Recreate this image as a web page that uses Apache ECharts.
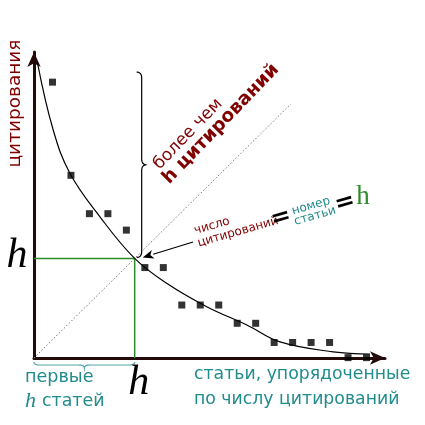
<!DOCTYPE html>
<html><head><meta charset="utf-8">
<script src="https://cdn.jsdelivr.net/npm/echarts@6/dist/echarts.min.js"></script>
<style>html,body{margin:0;padding:0;background:#fff}#c{width:425px;height:425px}</style>
</head><body><div id="c"></div>
<script>
// ---- data ----
const paperRank = [1,2,3,4,5,6,7,8,9,10,11,12,13,14,15,16,17,18];
const citations = [15.1,10.0,7.9,7.9,7.0,4.95,4.95,2.9,2.9,2.9,1.9,1.9,0.85,0.85,0.85,0.85,0.02,0.02];
const curveX = [0.18,1.04,1.95,3.57,5.45,7.18,9.35,11.52,13.32,16.19,18.19];
const curveY = [16.2,12.48,10.1,7.73,5.45,4.09,2.81,1.81,0.88,0.34,0.22];
const hIndex = 5.45;
const diagonalEnd = 13.9;
const braceTopValue = 15.65;
const xMax = 19, yMax = 16.75;

const DARKRED = '#800000', TEAL = '#218c8c', GREEN = '#2a8c2a';
const SANS = '"DejaVu Sans", sans-serif';
const SERIF = '"Liberation Serif", "DejaVu Serif", serif';

const chart = echarts.init(document.getElementById('c'));
const axisCommon = {
  type: 'value', min: 0,
  axisLine: { show: true, symbol: ['none', 'arrow'], symbolSize: [10, 15],
    lineStyle: { color: '#250a0a', width: 3 } },
  axisTick: { show: false }, axisLabel: { show: false }, splitLine: { show: false }
};
chart.setOption({
  animation: false,
  grid: { left: 34, top: 52, width: 351, height: 306 },
  xAxis: Object.assign({}, axisCommon, { max: xMax }),
  yAxis: Object.assign({}, axisCommon, { max: yMax }),
  series: [
    { type: 'line', data: [[0, 0], [diagonalEnd, diagonalEnd]], showSymbol: false,
      lineStyle: { color: '#777', width: 1, type: [1.5, 2] }, z: 1 },
    { type: 'line', data: [[0, hIndex], [hIndex, hIndex], [hIndex, 0]], showSymbol: false,
      lineStyle: { color: GREEN, width: 1.5 }, z: 2 },
    { type: 'line', data: curveX.map((x, i) => [x, curveY[i]]), smooth: 0.4, showSymbol: false,
      lineStyle: { color: '#000', width: 1.2 }, z: 3 },
    { type: 'scatter', data: paperRank.map((r, i) => [r, citations[i]]), symbol: 'rect',
      symbolSize: 7, itemStyle: { color: '#000' }, z: 4 }
  ]
});

const px = (x, y) => chart.convertToPixel({ gridIndex: 0 }, [x, y]);
const hp = px(hIndex, hIndex);
const o = px(0, 0);
const braceTopPx = px(hIndex, braceTopValue);

function txt(text, x, y, font, fill, opts) {
  opts = opts || {};
  return { type: 'text', x: x, y: y, rotation: opts.rot || 0, z: 10,
    style: { text: text, font: font, fill: fill,
      align: opts.align || 'center', textAlign: opts.align || 'center',
      verticalAlign: 'middle', textVerticalAlign: 'middle' } };
}
const rot16 = 16 * Math.PI / 180, rot46 = 46 * Math.PI / 180;

// build a polyline from a list of segments: ['L', p] or ['Q', c, p]
function trace(start, segs) {
  const pts = [start];
  let cur = start;
  segs.forEach(s => {
    if (s[0] === 'L') { pts.push(s[1]); cur = s[1]; }
    else {
      const c = s[1], p = s[2];
      for (let t = 1; t <= 8; t++) {
        const u = t / 8, a = (1 - u) * (1 - u), b = 2 * u * (1 - u), d = u * u;
        pts.push([a * cur[0] + b * c[0] + d * p[0], a * cur[1] + b * c[1] + d * p[1]]);
      }
      cur = p;
    }
  });
  return pts;
}
const r = 6;
// vertical brace (points right)
const bx0 = hp[0] + 2, bx1 = hp[0] + 7, bx2 = hp[0] + 12;
const by1 = braceTopPx[1], by2 = hp[1] - 1, bym = (by1 + by2) / 2;
const vBrace = trace([bx0, by1], [
  ['Q', [bx1, by1], [bx1, by1 + r]], ['L', [bx1, bym - r]], ['Q', [bx1, bym], [bx2, bym]],
  ['Q', [bx1, bym], [bx1, bym + r]], ['L', [bx1, by2 - r]], ['Q', [bx1, by2], [bx0, by2]]]);
// horizontal brace (points down)
const hx1 = o[0], hx2 = hp[0], hxm = (hx1 + hx2) / 2, hy0 = o[1] + 4, hy1 = o[1] + 7, hy2 = o[1] + 10;
const hBrace = trace([hx1, hy0], [
  ['Q', [hx1, hy1], [hx1 + r, hy1]], ['L', [hxm - r, hy1]], ['Q', [hxm, hy1], [hxm, hy2]],
  ['Q', [hxm, hy1], [hxm + r, hy1]], ['L', [hx2 - r, hy1]], ['Q', [hx2, hy1], [hx2, hy0]]]);

// arrow to h point
const as = [193, 242], ae = [hp[0] + 8, hp[1] - 1];
const dx = ae[0] - as[0], dy = ae[1] - as[1], L = Math.hypot(dx, dy), ux = dx / L, uy = dy / L;
const hl = 11, hw = 4.5;
const base = [ae[0] - ux * hl, ae[1] - uy * hl];
const head = [[ae[0], ae[1]], [base[0] - uy * hw, base[1] + ux * hw], [base[0] + ux * 3, base[1] + uy * 3], [base[0] + uy * hw, base[1] - ux * hw]];

chart.setOption({
  graphic: [
    { type: 'polyline', shape: { points: vBrace }, style: { stroke: '#000', fill: null, lineWidth: 1.2 }, z: 10 },
    { type: 'polyline', shape: { points: hBrace }, style: { stroke: '#4fa5a5', fill: null, lineWidth: 1.2 }, z: 10 },
    { type: 'line', shape: { x1: as[0], y1: as[1], x2: base[0], y2: base[1] }, style: { stroke: '#000', lineWidth: 1.2 }, z: 10 },
    { type: 'polygon', shape: { points: head }, style: { fill: '#000' }, z: 10 },
    txt('цитирования', 15, 103.5, '18.5px ' + SANS, DARKRED, { rot: Math.PI / 2 }),
    txt('h', o[0] - 17, hp[1] - 2, 'italic 42px ' + SERIF, '#000'),
    txt('h', hp[0] + 4, o[1] + 25, 'italic 42px ' + SERIF, '#000'),
    txt('первые', 25, 377, '17.6px ' + SANS, TEAL, { align: 'left' }),
    txt('h', 25, 401, 'italic 22px ' + SERIF, TEAL, { align: 'left' }),
    txt('статей', 42, 401, '17.4px ' + SANS, TEAL, { align: 'left' }),
    txt('статьи, упорядоченные', 194, 375, '17.3px ' + SANS, TEAL, { align: 'left' }),
    txt('по числу цитирований', 194, 400, '17.3px ' + SANS, TEAL, { align: 'left' }),
    txt('более чем', 188, 134, '17px ' + SANS, DARKRED, { rot: rot46 }),
    txt('h цитирований', 221, 124, 'bold 18.5px ' + SANS, DARKRED, { rot: rot46 }),
    txt('число', 212, 226, '12px ' + SANS, DARKRED, { rot: rot16 }),
    txt('цитирований', 238, 232, '12px ' + SANS, DARKRED, { rot: rot16 }),
    txt('=', 281, 218, 'bold 24px ' + SANS, '#000', { rot: rot16 }),
    txt('номер', 311, 206, '12px ' + SANS, TEAL, { rot: rot16 }),
    txt('статьи', 315, 216, '12px ' + SANS, TEAL, { rot: rot16 }),
    txt('=', 345, 203, 'bold 24px ' + SANS, '#000', { rot: rot16 }),
    txt('h', 363, 197, '27px ' + SERIF, GREEN)
  ]
});
</script></body></html>
